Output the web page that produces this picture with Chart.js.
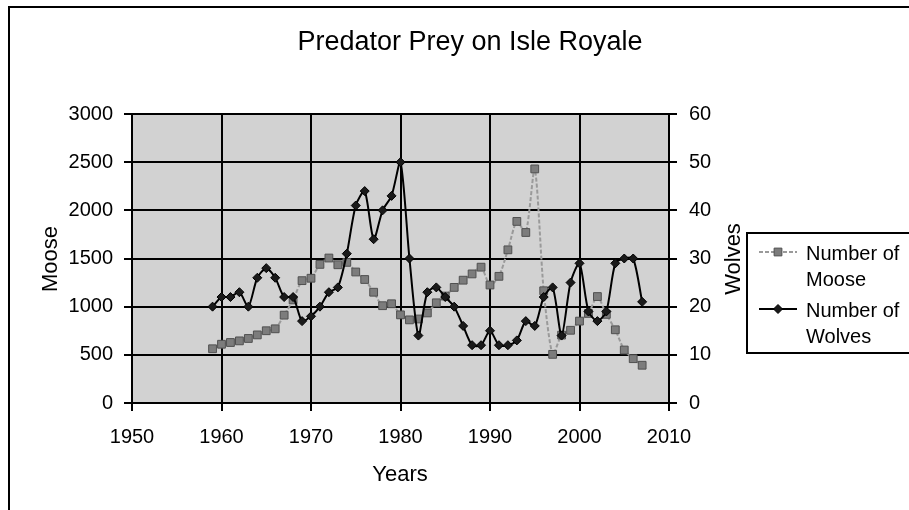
<!DOCTYPE html>
<html>
<head>
<meta charset="utf-8">
<title>Predator Prey on Isle Royale</title>
<script src="https://cdn.jsdelivr.net/npm/chart.js@4.4.0/dist/chart.umd.min.js"></script>
<style>
  body { margin: 0; background: #fff; }
  canvas { display: block; }
</style>
</head>
<body>
<canvas id="chart" width="909" height="510"></canvas>
<script>
// Isle Royale counts
const years = [
  1959, 1960, 1961, 1962, 1963, 1964, 1965, 1966, 1967, 1968,
  1969, 1970, 1971, 1972, 1973, 1974, 1975, 1976, 1977, 1978,
  1979, 1980, 1981, 1982, 1983, 1984, 1985, 1986, 1987, 1988,
  1989, 1990, 1991, 1992, 1993, 1994, 1995, 1996, 1997, 1998,
  1999, 2000, 2001, 2002, 2003, 2004, 2005, 2006, 2007
];
const moose = [
  563, 610, 628, 645, 670, 707, 750, 770, 912, 1070,
  1270, 1295, 1439, 1505, 1435, 1460, 1360, 1282, 1150, 1010,
  1030, 915, 863, 872, 935, 1040, 1110, 1200, 1275, 1340,
  1410, 1225, 1315, 1590, 1885, 1770, 2430, 1165, 505, 705,
  755, 850, 930, 1105, 920, 760, 550, 460, 392
];
const wolves = [
  20, 22, 22, 23, 20, 26, 28, 26, 22, 22,
  17, 18, 20, 23, 24, 31, 41, 44, 34, 40,
  43, 50, 30, 14, 23, 24, 22, 20, 16, 12,
  12, 15, 12, 12, 13, 17, 16, 22, 24, 14,
  25, 29, 19, 17, 19, 29, 30, 30, 21
];

const yearTicks = [1950, 1960, 1970, 1980, 1990, 2000, 2010];
const mooseTicks = [0, 500, 1000, 1500, 2000, 2500, 3000];
const wolfTicks = [0, 10, 20, 30, 40, 50, 60];

const chartTitle = "Predator Prey on Isle Royale";
const xTitle = "Years";
const mooseTitle = "Moose";
const wolfTitle = "Wolves";

const FONT = "'Liberation Sans', Arial, sans-serif";
Chart.defaults.font.family = FONT;
Chart.defaults.color = "#000";

const toPoints = (values) => years.map((yr, i) => ({ x: yr, y: values[i] }));
const useTicks = (list) => (scale) => {
  scale.ticks = list.map((v) => ({ value: v }));
};
const plain = (v) => String(v); // no thousands separator

// draws the mark used in the legend, same look as on the chart
function drawMarker(ctx, ds, x, y) {
  const r = ds.pointRadius;
  ctx.fillStyle = ds.pointBackgroundColor;
  ctx.strokeStyle = ds.pointBorderColor;
  ctx.lineWidth = 1;
  ctx.beginPath();
  if (ds.pointStyle === "rect") {
    const s = r * Math.SQRT1_2;
    ctx.rect(x - s, y - s, 2 * s, 2 * s);
  } else {
    ctx.moveTo(x, y - r);
    ctx.lineTo(x + r, y);
    ctx.lineTo(x, y + r);
    ctx.lineTo(x - r, y);
    ctx.closePath();
  }
  ctx.fill();
  ctx.stroke();
}

const excelLook = {
  id: "excelLook",
  beforeDraw(chart) {
    const { ctx, chartArea: a } = chart;
    ctx.save();
    ctx.fillStyle = "#fff";
    ctx.fillRect(0, 0, chart.width, chart.height);
    ctx.fillStyle = "#d2d2d2";
    ctx.fillRect(a.left, a.top, a.right - a.left, a.bottom - a.top);
    // chart frame, only its top and left edges are in view
    ctx.strokeStyle = "#000";
    ctx.lineWidth = 2;
    ctx.beginPath();
    ctx.moveTo(9, chart.height);
    ctx.lineTo(9, 7);
    ctx.lineTo(chart.width, 7);
    ctx.stroke();
    ctx.restore();
  },
  afterDraw(chart) {
    const ctx = chart.ctx;
    ctx.save();
    ctx.fillStyle = "#000";
    ctx.textAlign = "center";
    ctx.textBaseline = "middle";

    ctx.font = "27px " + FONT;
    ctx.fillText(chartTitle, 470, 43);

    ctx.font = "22px " + FONT;
    ctx.fillText(xTitle, 400, 475);

    ctx.translate(51, 259);
    ctx.rotate(-Math.PI / 2);
    ctx.fillText(mooseTitle, 0, 0);
    ctx.setTransform(1, 0, 0, 1, 0, 0);

    ctx.translate(734, 259);
    ctx.rotate(-Math.PI / 2);
    ctx.fillText(wolfTitle, 0, 0);
    ctx.setTransform(1, 0, 0, 1, 0, 0);

    // legend box
    ctx.strokeStyle = "#000";
    ctx.lineWidth = 2;
    ctx.strokeRect(747, 233, 200, 120);

    const rows = [252, 309];
    chart.data.datasets.forEach((ds, i) => {
      const y = rows[i];
      ctx.strokeStyle = ds.borderColor;
      ctx.lineWidth = ds.borderWidth;
      ctx.setLineDash(ds.borderDash || []);
      ctx.beginPath();
      ctx.moveTo(759, y);
      ctx.lineTo(797, y);
      ctx.stroke();
      ctx.setLineDash([]);
      drawMarker(ctx, ds, 778, y);

      ctx.fillStyle = "#000";
      ctx.font = "20px " + FONT;
      ctx.textAlign = "left";
      ctx.textBaseline = "alphabetic";
      const lines = ds.label.split(/ (?=\S+$)/);
      lines.forEach((t, j) => ctx.fillText(t, 806, y + 8 + j * 26));
    });
    ctx.restore();
  },
};

const axisGrid = {
  color: "#000",
  lineWidth: 2,
  tickLength: 8,
  tickColor: "#000",
  tickWidth: 2,
};

new Chart(document.getElementById("chart"), {
  type: "line",
  data: {
    datasets: [
      {
        label: "Number of Moose",
        data: toPoints(moose),
        yAxisID: "y",
        borderColor: "#9a9a9a",
        borderWidth: 2,
        borderDash: [4, 2],
        pointStyle: "rect",
        pointRadius: 5.5,
        pointBackgroundColor: "#7c7c7c",
        pointBorderColor: "#505050",
        pointBorderWidth: 1,
        tension: 0.25,
        order: 1,
      },
      {
        label: "Number of Wolves",
        data: toPoints(wolves),
        yAxisID: "y1",
        borderColor: "#000",
        borderWidth: 2,
        pointStyle: "rectRot",
        pointRadius: 4.5,
        pointBackgroundColor: "#1a1a1a",
        pointBorderColor: "#000",
        pointBorderWidth: 1,
        tension: 0.25,
        order: 0,
      },
    ],
  },
  options: {
    responsive: false,
    animation: false,
    layout: { padding: { top: 114, left: 0, right: 0, bottom: 0 } },
    plugins: {
      legend: { display: false },
      title: { display: false },
      tooltip: { enabled: false },
    },
    scales: {
      x: {
        type: "linear",
        min: 1950,
        max: 2010,
        afterBuildTicks: useTicks(yearTicks),
        afterFit: (scale) => { scale.height = 107; },
        grid: axisGrid,
        border: { color: "#000", width: 2 },
        ticks: { font: { size: 20 }, padding: 14, maxRotation: 0, callback: plain },
      },
      y: {
        position: "left",
        min: 0,
        max: 3000,
        afterBuildTicks: useTicks(mooseTicks),
        afterFit: (scale) => { scale.width = 132; },
        grid: axisGrid,
        border: { color: "#000", width: 2 },
        ticks: { font: { size: 20 }, padding: 11, callback: plain },
      },
      y1: {
        position: "right",
        min: 0,
        max: 60,
        afterBuildTicks: useTicks(wolfTicks),
        afterFit: (scale) => { scale.width = 240; },
        grid: { ...axisGrid, drawOnChartArea: false },
        border: { color: "#000", width: 2 },
        ticks: { font: { size: 20 }, padding: 12, callback: plain },
      },
    },
  },
  plugins: [excelLook],
});
</script>
</body>
</html>
